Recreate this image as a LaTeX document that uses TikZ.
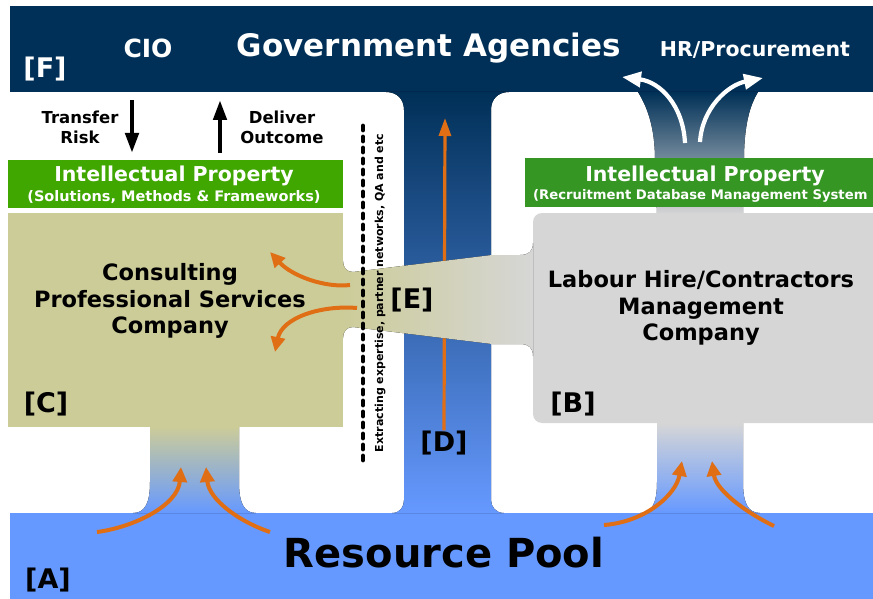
\documentclass[tikz,border=0pt]{standalone}
\usepackage{fontspec}
\setmainfont{DejaVu Sans}
\usetikzlibrary{arrows.meta}

\definecolor{agency}{RGB}{0,48,87}
\definecolor{pool}{RGB}{102,153,255}
\definecolor{consult}{RGB}{204,204,153}
\definecolor{hire}{RGB}{214,214,214}
\definecolor{ipleft}{RGB}{64,166,0}
\definecolor{ipright}{RGB}{54,150,36}
\definecolor{flowc}{RGB}{224,110,20}

\tikzset{
  every node/.style={inner sep=0pt},
  title/.style={text=white,anchor=base,font=\bfseries\fontsize{31}{36}\selectfont},
  role/.style={text=white,anchor=base,font=\bfseries\fontsize{#1}{#1}\selectfont},
  tag/.style={anchor=base,font=\bfseries\fontsize{27}{30}\selectfont},
  firm/.style={align=center,font=\bfseries\fontsize{22.5}{26.8}\selectfont},
  note/.style={align=center,font=\bfseries\fontsize{16.5}{20}\selectfont},
  ip/.style={text=white,anchor=base,font=\bfseries\fontsize{20.5}{24}\selectfont},
  ipsub/.style={text=white,anchor=base,font=\bfseries\fontsize{#1}{17}\selectfont},
  flow/.style={draw=flowc,line width=4pt,-{Triangle[width=14pt,length=15pt]}},
  lift/.style={draw=white,line width=4.2pt,-{Triangle[width=15pt,length=19pt]}},
  push/.style={draw=black,line width=4.5pt,-{Triangle[width=13pt,length=20pt]}}
}

\begin{document}
\begin{tikzpicture}[x=1pt,y=-1pt]
  \useasboundingbox (0,0) rectangle (873,599);
  \clip (0,0) rectangle (873,599);

  % agencies on top, resource pool below
  \fill[agency] (10,6) rectangle (873,92);
  \fill[pool] (10,513) rectangle (873,599);

  % direct channel
  \fill[top color=agency,bottom color=pool] (386,92) .. controls (397,92) and (404,99) .. (404,110)
    -- (404,500) .. controls (404,507) and (400,513) .. (392,513) -- (504,513)
    .. controls (496,513) and (491,507) .. (491,500) -- (491,110)
    .. controls (491,99) and (498,92) .. (509,92) -- cycle;

  % stems
  \fill[top color=consult,bottom color=pool] (150,427) -- (150,482) .. controls (150,503) and (145,513) .. (133,513)
    -- (256,513) .. controls (244,513) and (239,503) .. (239,482) -- (239,427) -- cycle;
  \fill[top color=hire,bottom color=pool] (657,423) -- (657,482) .. controls (657,503) and (652,513) .. (640,513)
    -- (760,513) .. controls (748,513) and (743,503) .. (743,482) -- (743,423) -- cycle;
  \fill[top color=agency,bottom color=hire] (638,92) .. controls (646,105) and (655,125) .. (655,160)
    -- (657,215) -- (743,215) -- (744,160) .. controls (744,125) and (750,105) .. (758,92) -- cycle;

  % intellectual property bars
  \fill[ipleft] (8,160) rectangle (343,208);
  \fill[ipright] (525,158) rectangle (873,207);

  % companies
  \fill[consult] (8,213) rectangle (343,427);
  \fill[hire,rounded corners=9pt] (533,213) rectangle (895,423);

  \node[tag] (D) at (444,451) {[D]};
  \coordinate (Dtip) at (445,118);
  \draw[flow,line width=3.2pt,-{Triangle[width=12pt,length=18pt]}] (D.north) -- (Dtip);

  % expertise channel between the two companies
  \fill[left color=consult,right color=hire] (343,261) .. controls (343,268) and (347,272) .. (353,272)
    -- (492,255) -- (520,255) .. controls (529,255) and (533,251) .. (533,243)
    -- (533,356) .. controls (533,348) and (529,344) .. (520,344) -- (492,344)
    -- (353,327) .. controls (347,327) and (343,331) .. (343,338) -- cycle;

  \coordinate (dots1) at (363,126);
  \coordinate (dots2) at (363,462);
  \draw[line width=4.8pt,line cap=round,dash pattern=on 4pt off 7pt] (dots1) -- (dots2);
  \node[rotate=90,anchor=base,font=\bfseries\fontsize{11}{13}\selectfont] (extract) at (383,293)
    {Extracting expertise, partner networks, QA and etc};

  % labels
  \node[title] (gov) at (429,57) {Government Agencies};
  \node[role=25] (cio) at (148,58) {CIO};
  \node[role=20.5] (hr) at (755,57) {HR/Procurement};
  \node[tag,text=white] (F) at (45,78) {[F]};
  \node[note] (risk) at (80,127) {Transfer\\Risk};
  \node[note] (outcome) at (282,127) {Deliver\\Outcome};
  \node[ip] (ipC) at (174,182) {Intellectual Property};
  \node[ipsub=14.5] (ipCsub) at (174,201) {(Solutions, Methods \& Frameworks)};
  \node[ip] (ipB) at (705,182) {Intellectual Property};
  \node[ipsub=13.2,anchor=base west] (ipBsub) at (533,200) {(Recruitment Database Management System};
  \node[firm] (firmC) at (170,301) {Consulting\\Professional Services\\Company};
  \node[firm] (firmB) at (701,308) {Labour Hire/Contractors\\Management\\Company};
  \node[tag] (C) at (46,412) {[C]};
  \node[tag] (B) at (573,412) {[B]};
  \node[tag] (E) at (412,308) {[E]};
  \node[tag] (A) at (48,588) {[A]};
  \node[anchor=base,font=\bfseries\fontsize{40}{42}\selectfont] (respool) at (444,567) {Resource Pool};

  % risk down, outcome up
  \coordinate (risk1) at (132,100);
  \coordinate (risk2) at (132,153);
  \coordinate (out1) at (220,153);
  \coordinate (out2) at (220,100);
  \draw[push] (risk1) -- (risk2);
  \draw[push] (out1) -- (out2);

  % people flowing up from the pool and across
  \coordinate (pCl) at (97,532);   \coordinate (sCl) at (181,467);
  \coordinate (pCr) at (270,532);  \coordinate (sCr) at (206,467);
  \coordinate (pBl) at (604,525);  \coordinate (sBl) at (682,461);
  \coordinate (pBr) at (774,526);  \coordinate (sBr) at (712,461);
  \coordinate (eU) at (350,285);   \coordinate (cU) at (270,252);
  \coordinate (eL) at (357,308);   \coordinate (cL) at (275,352);
  \draw[flow] (pCl) .. controls (135,527) and (178,505) .. (sCl);
  \draw[flow] (pCr) .. controls (240,522) and (209,500) .. (sCr);
  \draw[flow] (pBl) .. controls (645,522) and (676,495) .. (sBl);
  \draw[flow] (pBr) .. controls (745,512) and (716,490) .. (sBr);
  \draw[flow] (eU) .. controls (325,288) and (292,276) .. (cU);
  \draw[flow] (eL) .. controls (320,305) and (282,318) .. (cL);

  \coordinate (hrL1) at (685,143);  \coordinate (hrL2) at (622,77);
  \coordinate (hrR1) at (700,142);  \coordinate (hrR2) at (763,78);
  \draw[lift] (hrL1) .. controls (683,105) and (660,82) .. (hrL2);
  \draw[lift] (hrR1) .. controls (702,108) and (728,85) .. (hrR2);
\end{tikzpicture}
\end{document}
